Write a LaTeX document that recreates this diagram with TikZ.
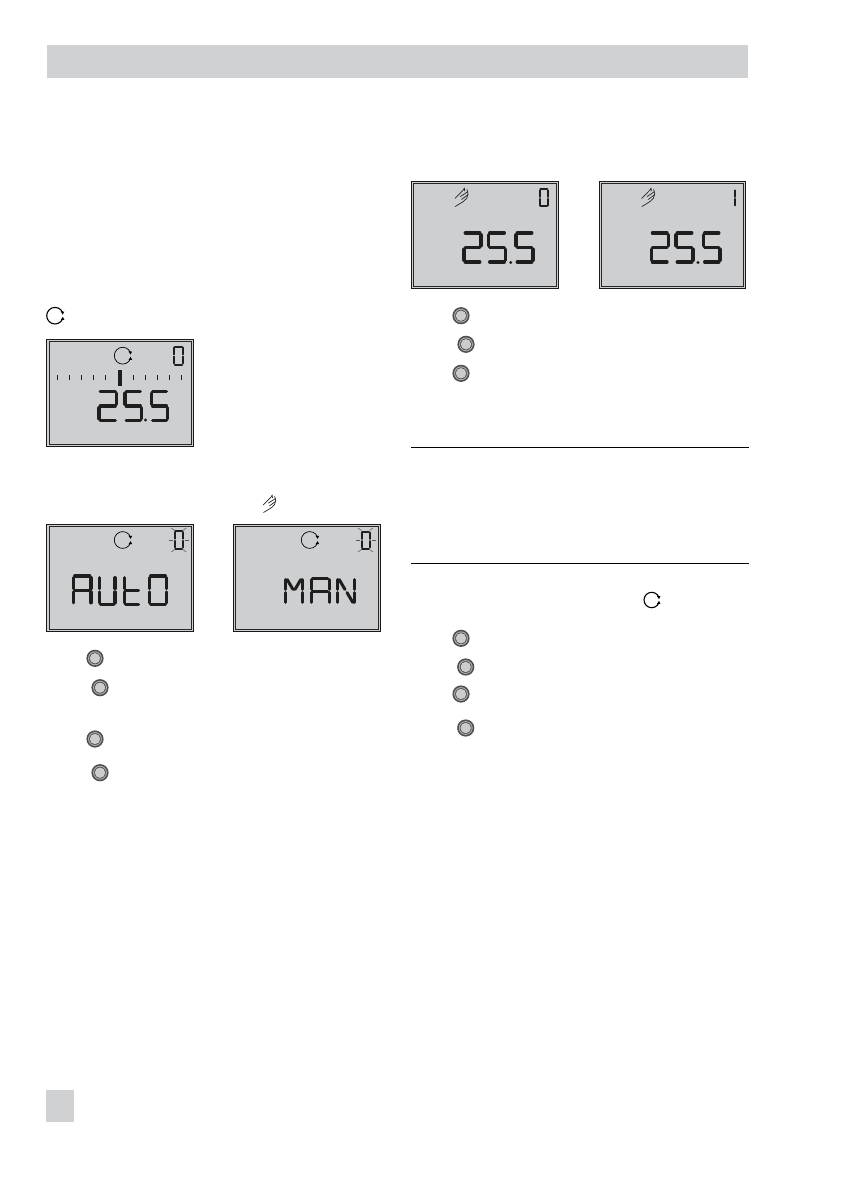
\documentclass[tikz,border=0pt]{standalone}
\definecolor{band}{HTML}{CFD1D2}
\definecolor{lcdbg}{HTML}{CDCFD0}
\definecolor{lcdink}{HTML}{1E1E1E}
\definecolor{btnring}{HTML}{4F4F4F}
\definecolor{btnmid}{HTML}{B4B4B4}
\definecolor{btnin}{HTML}{CCCCCC}
\tikzset{
  lcdseg/.style={draw=lcdink,line cap=round,line join=round},
  frameout/.style={draw=black!90,line width=1.3pt,fill=lcdbg},
  framein/.style={draw=black!85,line width=0.7pt},
  rulerline/.style={draw=black,line width=0.8pt},
  lcdtick/.style={draw=lcdink,line width=0.9pt},
  handline/.style={draw=black!85,line width=0.7pt,line cap=round,line join=round},
  rayline/.style={draw=black!65,line width=0.55pt}
}
% segments in a unit box
\newcommand{\lcdsega}{\draw[lcdseg] (.07,0)--(.93,0);}
\newcommand{\lcdsegb}{\draw[lcdseg] (1,.06)--(1,.44);}
\newcommand{\lcdsegc}{\draw[lcdseg] (1,.56)--(1,.94);}
\newcommand{\lcdsegd}{\draw[lcdseg] (.07,1)--(.93,1);}
\newcommand{\lcdsege}{\draw[lcdseg] (0,.56)--(0,.94);}
\newcommand{\lcdsegf}{\draw[lcdseg] (0,.06)--(0,.44);}
\newcommand{\lcdsegg}{\draw[lcdseg] (.07,.5)--(.93,.5);}
\newcommand{\lcdsegh}{\draw[lcdseg] (.1,.06)--(.44,.44);}
\newcommand{\lcdsegi}{\draw[lcdseg] (.9,.06)--(.56,.44);}
\newcommand{\lcdsegj}{\draw[lcdseg] (.56,.56)--(.9,.94);}
% x y (top-left), width, height, line width, segments
\newcommand{\lcdglyph}[6]{%
  \begin{scope}[shift={(#1,#2)},x=#3pt,y=-#4pt,line width=#5pt]
    \foreach \s in {#6}{\csname lcdseg\s\endcsname}
  \end{scope}}
\newcommand{\lcdframe}[4]{%
  \path[frameout] (#1,#2) rectangle (#3,#4);
  \draw[framein] (#1+2.5,#2+2.5) rectangle (#3-2.5,#4-2.5);}
% cycle icon: x y radius lw
\newcommand{\cycicon}[4]{%
  \begin{scope}[shift={(#1,#2)},x=1pt,y=1pt]
    \draw[black,line width=#4pt] (22:#3pt) arc[start angle=22,end angle=338,radius=#3pt];
    \fill[black] (22:#3pt) ++(-2,1.2) -- ++(3.6,-0.2) -- ++(-1.5,-3.0) -- cycle;
    \fill[black] (338:#3pt) ++(-2,-1.2) -- ++(3.6,0.2) -- ++(-1.5,3.0) -- cycle;
  \end{scope}}
% hand icon: x y (top-left) w h
\newcommand{\handicon}[4]{%
  \begin{scope}[shift={(#1,#2)},x=#3pt,y=-#4pt]
    \draw[handline] (0,.56)--(.62,.12)--(.72,0)--(.74,.16);
    \draw[handline] (.02,1)--(.62,.74)--(.9,.56)--(1,.32)--(.92,.08);
    \draw[handline] (.42,.46)--(.98,.2);
    \draw[handline] (.5,.62)--(1,.36);
  \end{scope}}
\newcommand{\lcdbutton}[2]{%
  \fill[btnring] (#1,#2) circle[radius=8.6pt];
  \fill[btnmid] (#1,#2) circle[radius=6.9pt];
  \fill[btnring] (#1,#2) circle[radius=5.9pt];
  \fill[btnin] (#1,#2) circle[radius=5.2pt];}
% blinking zero rays, around centre
\newcommand{\lcdrays}[2]{%
  \draw[rayline] (#1-10,#2)--(#1-6,#2);
  \draw[rayline] (#1+6,#2)--(#1+10,#2);
  \draw[rayline] (#1-7.5,#2-12)--(#1-4,#2-9.5);
  \draw[rayline] (#1+7.5,#2-12)--(#1+4,#2-9.5);
  \draw[rayline] (#1-7.5,#2+12)--(#1-4,#2+9.5);
  \draw[rayline] (#1+7.5,#2+12)--(#1+4,#2+9.5);}
\begin{document}
\begin{tikzpicture}[x=1pt,y=-1pt]
\path[use as bounding box,fill=white] (0,0) rectangle (840,1190);
% page furniture
\fill[band] (47,45) rectangle (748,78);
\fill[band] (46,1090) rectangle (74,1122);
\draw[rulerline] (411,447.5) -- (749,447.5);
\draw[rulerline] (411,563.5) -- (749,563.5);

% panel A
\cycicon{55}{315.7}{8.3}{1.1}
\lcdframe{46.7}{339.3}{193.7}{446.7}
\cycicon{122.7}{355.7}{8.4}{0.7}
\lcdglyph{174.2}{346.5}{8.4}{18}{2}{a,b,c,d,e,f}
\foreach \tx in {57.3,69.3,81.3,93.3,105.3,133.3,145.3,157.3,169.3,181.3}{
  \draw[lcdtick] (\tx,375) -- (\tx,380);}
\fill[lcdink] (118,370) rectangle (122,385.7);
\lcdglyph{99}{391.5}{17.5}{29}{3.3}{a,b,g,e,d}
\lcdglyph{125}{391.5}{16.5}{29}{3.3}{a,f,g,c,d}
\lcdglyph{151.5}{391.5}{16}{29}{3.3}{a,f,g,c,d}
\fill[lcdink] (145.5,420) circle[radius=1.6pt];

% panel B
\lcdframe{46.7}{524.3}{193.7}{631.7}
\cycicon{122.7}{540}{8.4}{0.7}
\lcdglyph{174.8}{531}{8}{17.5}{2}{a,b,c,d,e,f}
\lcdrays{178.8}{540}
\lcdglyph{73.5}{576}{17.5}{28.5}{3.3}{a,b,c,e,f,g}
\lcdglyph{99.5}{576}{15.5}{28.5}{3.3}{b,c,d,e,f}
\lcdglyph{124.5}{576}{15}{28.5}{3.3}{f,e,g,d}
\lcdglyph{149.5}{576}{17}{28.5}{3.3}{a,b,c,d,e,f}

% panel C
\handicon{263.3}{495}{12.4}{17.5}
\lcdframe{233.3}{524.3}{380.7}{631.7}
\cycicon{309.7}{540}{8.4}{0.7}
\lcdglyph{361.5}{531.5}{8}{17}{2}{a,b,c,d,e,f}
\lcdrays{365.5}{540}
\lcdglyph{285.5}{578}{17}{26}{3}{b,c,e,f,h,i}
\lcdglyph{311}{578}{18}{26}{3}{a,b,c,e,f,g}
\lcdglyph{337.5}{578}{17}{26}{3}{b,c,e,f,h,j}

% panel D
\lcdframe{411.3}{181.3}{558.7}{288.7}
\handicon{455}{188}{13}{18.5}
\lcdglyph{539.8}{189.3}{8}{17}{2}{a,b,c,d,e,f}
\lcdglyph{464}{233}{17}{29}{3.3}{a,b,g,e,d}
\lcdglyph{488.5}{233}{17}{29}{3.3}{a,f,g,c,d}
\lcdglyph{516}{233}{17}{29}{3.3}{a,f,g,c,d}
\fill[lcdink] (510.7,262.5) circle[radius=1.6pt];

% panel E
\lcdframe{599.3}{181.3}{745.7}{288.7}
\handicon{641.7}{188}{13}{18.5}
\lcdglyph{733.5}{189.3}{1}{17}{2}{b,c}
\lcdglyph{651.2}{233}{17}{29}{3.3}{a,b,g,e,d}
\lcdglyph{676}{233}{17}{29}{3.3}{a,f,g,c,d}
\lcdglyph{703.5}{233}{16.5}{29}{3.3}{a,f,g,c,d}
\fill[lcdink] (698,262.5) circle[radius=1.6pt];

% buttons left column
\lcdbutton{95}{658.3}
\lcdbutton{100}{687.7}
\lcdbutton{95}{739}
\lcdbutton{100}{772.7}
% buttons right column, upper
\lcdbutton{461}{315.7}
\lcdbutton{466}{344.3}
\lcdbutton{461}{373.3}
% buttons right column, lower
\cycicon{651.7}{600}{7.7}{1.1}
\lcdbutton{461}{638.3}
\lcdbutton{465.7}{667}
\lcdbutton{461}{694}
\lcdbutton{465.7}{728}
\end{tikzpicture}
\end{document}
